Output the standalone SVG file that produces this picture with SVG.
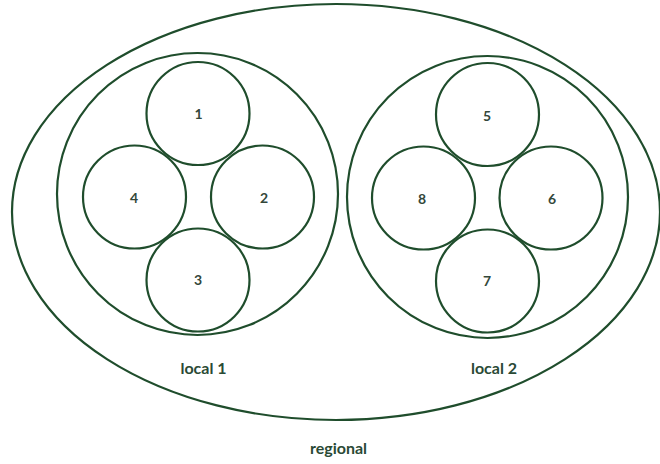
<svg xmlns="http://www.w3.org/2000/svg" width="660" height="464" viewBox="0 0 660 464">
<style>
.sh{fill:none;stroke:#1f4d2c;stroke-width:2.2}
.n{font-family:Lato,"Liberation Sans",sans-serif;font-weight:bold;font-size:14px;fill:#33473a;text-anchor:middle}
.l{font-family:Lato,"Liberation Sans",sans-serif;font-weight:bold;font-size:16px;fill:#2a4a35;text-anchor:middle}
</style>
<rect width="660" height="464" fill="#ffffff"/>
<g id="regional">
<ellipse class="sh" cx="336" cy="212" rx="324" ry="208"/>
<text class="l" x="338.5" y="454">regional</text>
</g>
<g id="local1">
<ellipse class="sh" cx="197.5" cy="194" rx="140.5" ry="141"/>
<text class="l" x="203.5" y="374">local 1</text>
</g>
<g id="local2">
<ellipse class="sh" cx="487.5" cy="197" rx="140.5" ry="141"/>
<text class="l" x="494" y="374">local 2</text>
</g>
<g id="n1"><circle class="sh" cx="198" cy="113.5" r="51.5"/><text class="n" x="198.5" y="119">1</text></g>
<g id="n2"><circle class="sh" cx="262.5" cy="197" r="51.5"/><text class="n" x="264" y="203">2</text></g>
<g id="n3"><circle class="sh" cx="198" cy="280" r="51.5"/><text class="n" x="198" y="285">3</text></g>
<g id="n4"><circle class="sh" cx="134.5" cy="197" r="51.5"/><text class="n" x="134" y="203">4</text></g>
<g id="n5"><circle class="sh" cx="487.5" cy="114.5" r="51.5"/><text class="n" x="487" y="121">5</text></g>
<g id="n6"><circle class="sh" cx="551" cy="198" r="51.5"/><text class="n" x="552" y="204">6</text></g>
<g id="n7"><circle class="sh" cx="487.5" cy="281" r="51.5"/><text class="n" x="487" y="286">7</text></g>
<g id="n8"><circle class="sh" cx="423.5" cy="198" r="51.5"/><text class="n" x="422" y="204">8</text></g>
<g id="connectors"></g>
</svg>
